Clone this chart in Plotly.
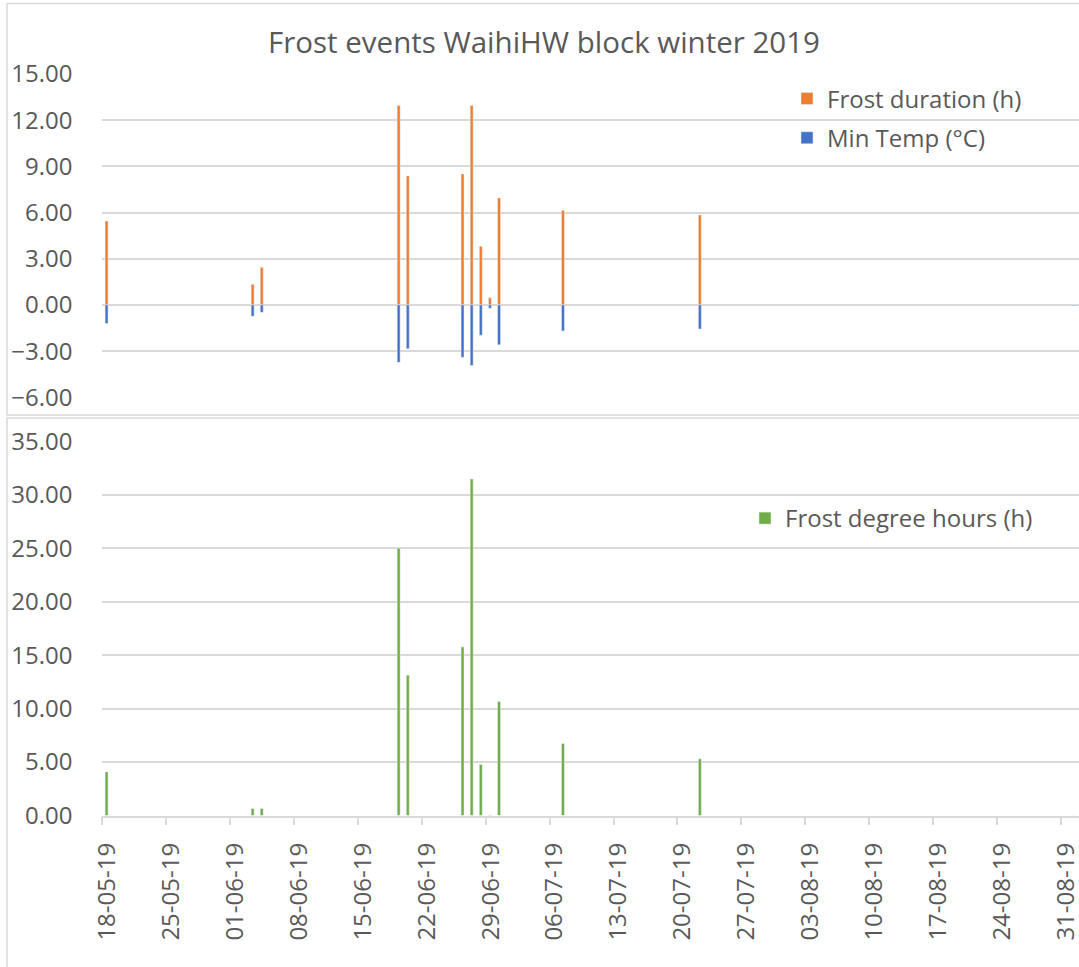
import plotly.graph_objects as go

# ---- data ----
dates = ["2019-05-18", "2019-06-03", "2019-06-04", "2019-06-19", "2019-06-20",
         "2019-06-26", "2019-06-27", "2019-06-28", "2019-06-29", "2019-06-30",
         "2019-07-07", "2019-07-22", "2019-09-01"]
frost_duration = [5.45, 1.34, 2.44, 12.95, 8.38, 8.51, 12.95, 3.81, 0.46, 6.95, 6.13, 5.84, 0.0]
min_temp = [-1.21, -0.74, -0.48, -3.73, -2.84, -3.40, -3.94, -1.97, -0.21, -2.59, -1.69, -1.56, -0.05]
frost_degree_hours = [4.08, 0.65, 0.65, 25.0, 13.12, 15.77, 31.48, 4.77, 0.05, 10.66, 6.73, 5.30, 0.0]

title_text = "Frost events WaihiHW block winter 2019"
tick_dates_start = "2019-05-18"
x_range = ["2019-05-18", "2019-09-02"]

# ---- styling ----
ORANGE = "#ED7D31"
BLUE = "#4472C4"
GREEN = "#70AD47"
TXT = "#595959"
GRID = "#d9d9d9"
FONT = "Open Sans"
W, H = 1079, 967

x_pos = [d + " 11:00" for d in dates]
bar_w = 0.32 * 86400000

fig = go.Figure()
fig.add_trace(go.Bar(x=x_pos, y=frost_duration, name="Frost duration (h)", marker_color=ORANGE,
                     width=bar_w, xaxis="x", yaxis="y", legend="legend", legendgroup="a"))
fig.add_trace(go.Bar(x=x_pos, y=min_temp, name="Min Temp (°C)", marker_color=BLUE,
                     width=bar_w, xaxis="x", yaxis="y", legend="legend", legendgroup="b"))
fig.add_trace(go.Bar(x=x_pos, y=frost_degree_hours, name="Frost degree hours (h)", marker_color=GREEN,
                     width=bar_w, xaxis="x2", yaxis="y2", legend="legend2"))

def py(px):
    return 1 - px / H

def pxx(px):
    return px / W

x_dom = [pxx(102.4), 1.0]
tick_font = dict(family=FONT, size=24, color=TXT)

fig.update_layout(
    width=W, height=H,
    margin=dict(l=0, r=0, t=0, b=0),
    paper_bgcolor="white", plot_bgcolor="white",
    barmode="relative",
    font=dict(family=FONT, color=TXT),
    title=dict(text=title_text, x=pxx(544), y=py(43), xanchor="center", yanchor="middle",
               font=dict(family=FONT, size=29.5, color=TXT)),
    xaxis=dict(domain=x_dom, anchor="y", type="date", range=x_range, showgrid=False,
               showticklabels=False, ticks="", zeroline=False, showline=False),
    yaxis=dict(domain=[py(397.3), py(74)], anchor="x", range=[-6, 15], dtick=3, tick0=0,
               tickformat=".2f", showgrid=True, gridcolor=GRID, gridwidth=1.5,
               zeroline=False, showline=False, ticks="", tickfont=tick_font,
               ticklabelstandoff=29, automargin=False),
    xaxis2=dict(domain=x_dom, anchor="y2", type="date", range=x_range, showgrid=False,
                tick0=tick_dates_start, dtick=7 * 86400000, tickformat="%d-%m-%y",
                tickangle=-90, ticks="outside", ticklen=8, tickcolor=GRID, tickwidth=1.5,
                showline=True, linecolor=GRID, linewidth=1.5, zeroline=False,
                tickfont=tick_font, ticklabelshift=5, ticklabelstandoff=8,
                ticklabeloverflow="allow", automargin=False),
    yaxis2=dict(domain=[py(815.5), py(441.3)], anchor="x2", range=[0, 35], dtick=5, tick0=0,
                tickformat=".2f", showgrid=True, gridcolor=GRID, gridwidth=1.5,
                zeroline=False, showline=False, ticks="", tickfont=tick_font,
                ticklabelstandoff=29, automargin=False),
    legend=dict(x=pxx(787), y=py(76.5), xanchor="left", yanchor="top",
                traceorder="grouped", tracegroupgap=5, bgcolor="rgba(0,0,0,0)",
                font=dict(family=FONT, size=24, color=TXT)),
    legend2=dict(x=pxx(745), y=py(496), xanchor="left", yanchor="top",
                 bgcolor="rgba(0,0,0,0)", font=dict(family=FONT, size=24, color=TXT)),
    shapes=[
        dict(type="rect", xref="paper", yref="paper", x0=pxx(7), x1=1.01, y0=py(415), y1=py(3.4),
             line=dict(color=GRID, width=1.5), layer="below"),
        dict(type="rect", xref="paper", yref="paper", x0=pxx(7), x1=1.01, y0=-0.01, y1=py(418),
             line=dict(color=GRID, width=1.5), layer="below"),
    ],
)

fig.write_html("out.html", config={"displayModeBar": False},
               post_script="document.body.style.margin='0';document.body.style.overflow='hidden';")
